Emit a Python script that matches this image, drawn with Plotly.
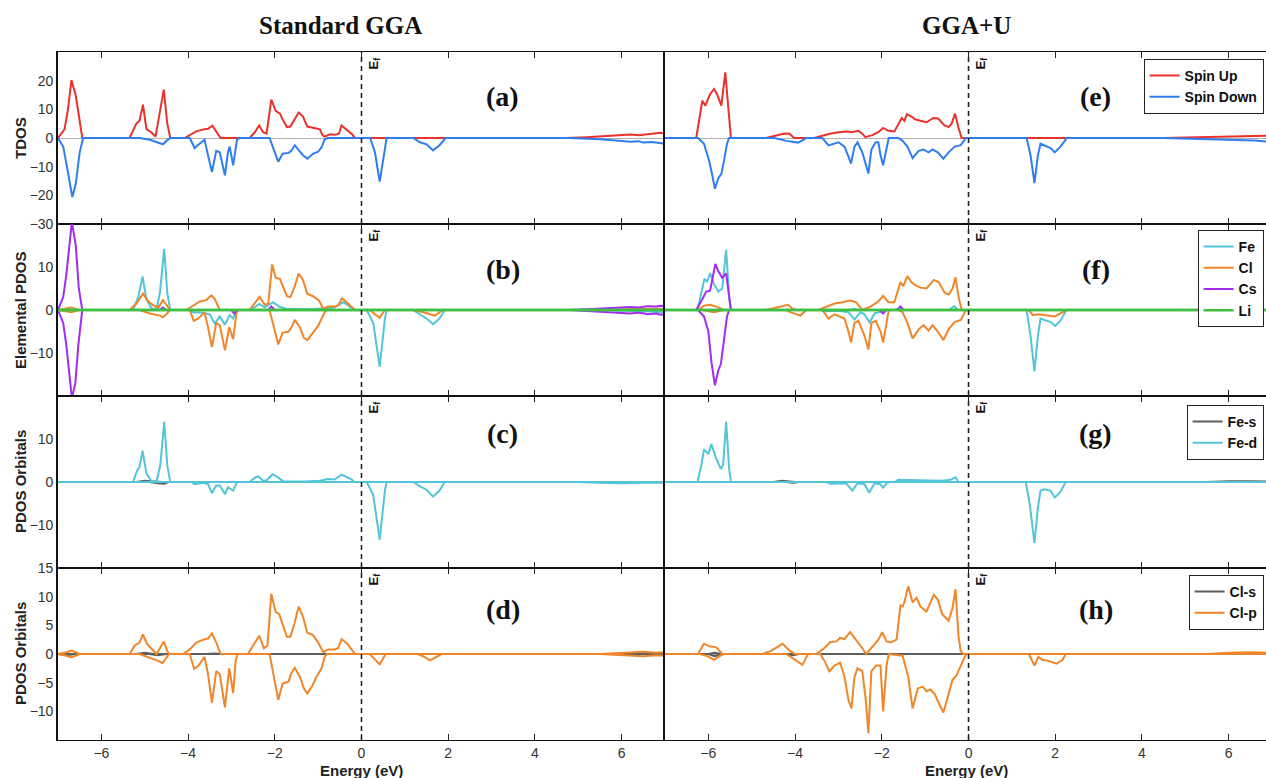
import plotly.graph_objects as go
from plotly.subplots import make_subplots

# ---------------- DATA (energy in eV, DOS in states/eV) ----------------
# (a) Standard GGA - TDOS
A_UP = [(-7, 0), (-6.85, 3), (-6.77, 10), (-6.69, 20.2), (-6.59, 14.8), (-6.44, 0), (-5.35, 0), (-5.19, 5.1), (-5.12, 6),
        (-5.04, 11.6), (-4.96, 3.1), (-4.85, 2), (-4.75, 0.5), (-4.56, 16.9), (-4.48, 5), (-4.41, 0), (-4.08, 0), (-3.96, 1),
        (-3.81, 2.3), (-3.65, 3), (-3.54, 3.2), (-3.44, 4.3), (-3.36, 2.5), (-3.25, 0), (-2.58, 0), (-2.46, 2), (-2.36, 4.4),
        (-2.27, 2), (-2.19, 1.5), (-2.08, 13.4), (-1.98, 9.5), (-1.88, 8.5), (-1.82, 6.5), (-1.72, 3.8), (-1.64, 4), (-1.54, 6.5),
        (-1.45, 8.9), (-1.35, 7.5), (-1.25, 4), (-1.12, 3.6), (-0.96, 3.0), (-0.90, 1), (-0.85, 0.5), (-0.73, 1.3), (-0.62, 1.1),
        (-0.52, 1.5), (-0.46, 4.4), (-0.35, 3), (-0.23, 1.5), (-0.15, 0), (4.7, 0), (5.2, 0.3), (5.6, 0.6), (6.0, 1.0), (6.2, 1.2),
        (6.4, 1.0), (6.6, 1.4), (6.8, 1.6), (6.9, 1.8), (7, 1.5)]
A_DN = [(-7, 0), (-6.88, -3), (-6.77, -12), (-6.67, -20.6), (-6.59, -16), (-6.5, -5), (-6.42, 0), (-5.12, 0), (-4.88, -0.6),
        (-4.7, -1.5), (-4.58, -2.2), (-4.46, -0.5), (-4.4, 0), (-3.96, 0), (-3.85, -3.5), (-3.75, -2.2), (-3.62, -0.6), (-3.54, -6),
        (-3.45, -11.9), (-3.35, -4.5), (-3.27, -5), (-3.15, -13), (-3.08, -5), (-3.04, -3), (-2.96, -9.5), (-2.87, -0.5), (-2.81, 0),
        (-2.12, 0), (-2.0, -5), (-1.92, -8.3), (-1.82, -5.5), (-1.68, -5.2), (-1.62, -4.5), (-1.54, -2.5), (-1.45, -4.2), (-1.35, -6),
        (-1.25, -7.2), (-1.12, -5.5), (-1.0, -4.8), (-0.92, -3.2), (-0.85, -0.5), (-0.78, 0), (0.2, 0), (0.31, -5), (0.42, -15.2),
        (0.54, -3), (0.58, 0), (1.19, 0), (1.35, -1.5), (1.5, -2.2), (1.65, -4.3), (1.8, -2.5), (1.94, 0), (4.8, 0), (5.2, -0.2),
        (5.5, -0.4), (5.8, -0.8), (6.0, -1.0), (6.2, -1.3), (6.4, -1.1), (6.5, -1.6), (6.7, -1.4), (6.85, -1.7), (7, -2.0)]

# (b) Standard GGA - elemental PDOS
B_FE_UP = [(-7, 0), (-5.27, 0), (-5.15, 3), (-5.05, 7.8), (-4.96, 2.5), (-4.85, 0.5), (-4.73, 0), (-4.65, 4), (-4.55, 14.2),
           (-4.48, 4), (-4.41, 0), (-2.55, 0), (-2.36, 1.4), (-2.23, 0.6), (-2.04, 1.8), (-1.88, 0.7), (-1.73, 0.3), (-1.2, 0.2),
           (-0.65, 0.5), (-0.42, 1.8), (-0.23, 0.5), (-0.15, 0), (7, 0)]
B_FE_DN = [(-7, 0), (-3.95, 0), (-3.88, -0.6), (-3.73, -0.5), (-3.5, -1), (-3.38, -3.2), (-3.27, -1.5), (-3.15, -3.4),
           (-3.04, -1.2), (-2.96, -2), (-2.87, 0), (0.12, 0), (0.27, -3), (0.42, -13.2), (0.54, -2), (0.58, 0), (1.19, 0),
           (1.42, -1.5), (1.53, -2.2), (1.65, -3.3), (1.8, -2), (1.92, 0), (5.5, 0), (6.5, -0.3), (7, -0.5)]
B_CL_UP = [(-7, 0), (-6.8, 0.3), (-6.69, 0.6), (-6.58, 0.2), (-6.5, 0), (-5.35, 0), (-5.19, 1.5), (-5.04, 3.8), (-4.92, 2),
           (-4.79, 1), (-4.69, 0.5), (-4.58, 2.3), (-4.48, 1), (-4.41, 0), (-4.04, 0), (-3.88, 1), (-3.73, 2), (-3.58, 2.3),
           (-3.46, 3.4), (-3.38, 2.5), (-3.27, 0), (-2.58, 0), (-2.46, 1.5), (-2.35, 3.1), (-2.23, 1.2), (-2.15, 1.5), (-2.06, 10.6),
           (-1.98, 7.5), (-1.88, 7.2), (-1.81, 5.5), (-1.72, 3.2), (-1.64, 3), (-1.54, 5.5), (-1.45, 8.5), (-1.35, 7), (-1.25, 3.8),
           (-1.12, 3.2), (-0.98, 2.2), (-0.88, 0.3), (-0.77, 0.8), (-0.62, 0.8), (-0.54, 1), (-0.45, 2.7), (-0.31, 1.5),
           (-0.19, 0.5), (-0.15, 0), (5.5, 0), (6.0, 0.2), (6.5, 0.3), (7, 0.3)]
B_CL_DN = [(-7, 0), (-6.8, -0.3), (-6.69, -0.5), (-6.58, -0.2), (-6.5, 0), (-5.12, 0), (-4.88, -0.8), (-4.65, -1.3),
           (-4.58, -1.7), (-4.5, -1), (-4.42, 0), (-3.96, 0), (-3.87, -2.5), (-3.77, -2), (-3.62, -0.5), (-3.54, -4), (-3.45, -8.6),
           (-3.35, -3), (-3.27, -3.5), (-3.15, -9.4), (-3.05, -4), (-2.96, -6.8), (-2.88, -0.5), (-2.84, 0), (-2.12, 0), (-2.02, -4),
           (-1.92, -8), (-1.82, -5.3), (-1.68, -5), (-1.6, -3.8), (-1.54, -2.3), (-1.42, -4), (-1.33, -6.5), (-1.25, -7),
           (-1.13, -5.5), (-1.0, -3.7), (-0.92, -2), (-0.85, -0.5), (-0.79, 0), (0.19, 0), (0.31, -1), (0.42, -1.8), (0.54, 0),
           (1.19, 0), (1.45, -0.6), (1.57, -1), (1.69, -1.3), (1.88, 0), (7, 0)]
B_CS_UP = [(-7, 0), (-6.88, 3), (-6.81, 8), (-6.73, 16), (-6.68, 20.5), (-6.59, 15), (-6.52, 5), (-6.44, 0), (-4.65, 0),
           (-4.58, 0.6), (-4.5, 0), (-2.15, 0), (-2.08, 0.8), (-2.0, 0), (4.8, 0), (5.2, 0.2), (5.6, 0.4), (6.0, 0.5), (6.2, 0.7),
           (6.4, 0.6), (6.6, 0.9), (6.8, 0.8), (6.9, 1.0), (7, 0.8)]
B_CS_DN = [(-7, 0), (-6.88, -3), (-6.81, -8), (-6.73, -15), (-6.68, -20.5), (-6.6, -17), (-6.53, -8), (-6.44, 0), (-3.0, 0),
           (-2.94, -0.8), (-2.87, 0), (4.8, 0), (5.2, -0.2), (5.6, -0.4), (6.0, -0.6), (6.2, -0.8), (6.4, -0.6), (6.6, -1.0),
           (6.8, -0.8), (6.9, -1.1), (7, -0.9)]
B_LI_UP = [(-7, 0), (7, 0)]
B_LI_DN = [(-7, 0), (7, 0)]

# (c) Standard GGA - Fe orbitals
C_FES_UP = [(-7, 0), (-5.2, 0), (-5.0, 0.3), (-4.8, 0.2), (-4.6, 0), (7, 0)]
C_FES_DN = [(-7, 0), (-4.9, 0), (-4.7, -0.3), (-4.55, -0.4), (-4.45, 0), (7, 0)]
C_FED_UP = [(-7, 0), (-5.27, 0), (-5.18, 2.5), (-5.12, 3.5), (-5.05, 7.3), (-4.96, 2), (-4.85, 0.3), (-4.73, 0), (-4.64, 4),
            (-4.55, 14), (-4.48, 4), (-4.41, 0), (-2.58, 0), (-2.46, 1), (-2.38, 1.3), (-2.27, 0.3), (-2.19, 0.4), (-2.05, 1.8),
            (-1.92, 1), (-1.81, 0.2), (-1.3, 0.1), (-0.96, 0.3), (-0.77, 0.7), (-0.62, 0.6), (-0.46, 1.7), (-0.35, 1.2),
            (-0.23, 0.6), (-0.17, 0), (7, 0)]
C_FED_DN = [(-7, 0), (-3.92, 0), (-3.85, -0.5), (-3.65, -0.2), (-3.54, -0.5), (-3.45, -2.6), (-3.35, -0.8), (-3.27, -0.8),
            (-3.15, -2.8), (-3.08, -1.2), (-2.96, -2), (-2.87, 0), (0.12, 0), (0.27, -3), (0.42, -13.4), (0.54, -2), (0.58, 0),
            (1.19, 0), (1.35, -1), (1.5, -1.8), (1.65, -3.4), (1.8, -2), (1.92, 0), (5.0, 0), (5.5, -0.2), (6.0, -0.3),
            (6.5, -0.2), (7, -0.2)]

# (d) Standard GGA - Cl orbitals
D_CLS_UP = [(-7, 0), (-5.2, 0), (-5.0, 0.2), (-4.8, 0), (-3.6, 0), (-3.4, 0.1), (-3.2, 0), (7, 0)]
D_CLS_DN = [(-7, 0), (-6.8, -0.2), (-6.6, 0), (-4.9, 0), (-4.7, -0.2), (-4.5, 0), (7, 0)]
D_CLP_UP = [(-7, 0), (-6.8, 0.3), (-6.69, 0.6), (-6.58, 0.2), (-6.5, 0), (-5.35, 0), (-5.23, 1.5), (-5.12, 2), (-5.04, 3.4),
            (-4.95, 1.8), (-4.85, 1), (-4.73, 0), (-4.65, 1), (-4.56, 2.2), (-4.48, 0.5), (-4.44, 0), (-4.12, 0), (-3.96, 0.8),
            (-3.81, 2), (-3.65, 2.5), (-3.54, 2.7), (-3.45, 3.6), (-3.35, 2), (-3.25, 0), (-2.62, 0), (-2.5, 1.5), (-2.36, 3.2),
            (-2.25, 1), (-2.17, 1.5), (-2.08, 10.5), (-1.98, 7.3), (-1.9, 7), (-1.81, 5), (-1.72, 3), (-1.64, 3), (-1.54, 5.5),
            (-1.45, 8.3), (-1.35, 6.5), (-1.25, 3.7), (-1.12, 3.3), (-1.0, 2), (-0.88, 0.3), (-0.77, 0.8), (-0.62, 0.8),
            (-0.54, 1), (-0.46, 2.6), (-0.33, 1.8), (-0.21, 0.7), (-0.15, 0), (5.5, 0), (6.0, 0.2), (6.5, 0.4), (6.8, 0.2), (7, 0.3)]
D_CLP_DN = [(-7, 0), (-6.8, -0.3), (-6.69, -0.6), (-6.58, -0.2), (-6.5, 0), (-5.12, 0), (-4.88, -0.6), (-4.69, -1.2),
            (-4.59, -1.6), (-4.5, -0.7), (-4.44, 0), (-3.96, 0), (-3.86, -2.6), (-3.76, -2), (-3.62, -0.5), (-3.54, -3.5),
            (-3.45, -8.5), (-3.35, -3), (-3.27, -3.5), (-3.15, -9.3), (-3.05, -2.5), (-2.96, -6.8), (-2.9, -1), (-2.85, 0),
            (-2.12, 0), (-2.02, -4), (-1.92, -8), (-1.82, -5.2), (-1.68, -4.8), (-1.63, -3.5), (-1.54, -2.4), (-1.42, -4),
            (-1.33, -6), (-1.25, -6.9), (-1.13, -5.5), (-1.04, -4), (-0.92, -2.5), (-0.85, -0.5), (-0.79, 0), (0.19, 0),
            (0.31, -1), (0.42, -1.8), (0.52, -0.5), (0.56, 0), (1.3, 0), (1.45, -0.5), (1.58, -1.1), (1.7, -0.6), (1.85, 0),
            (5.5, 0), (6.0, -0.2), (6.5, -0.4), (6.8, -0.2), (7, -0.3)]

# (e) GGA+U - TDOS
E_UP = [(-7, 0), (-6.28, 0), (-6.14, 13), (-6.07, 11.3), (-5.96, 15.3), (-5.87, 17.1), (-5.80, 15.3), (-5.70, 11.3),
        (-5.61, 22.9), (-5.54, 10.7), (-5.48, 0), (-4.67, 0), (-4.43, 1), (-4.25, 1.6), (-4.13, 1.5), (-4.02, 0), (-3.56, 0),
        (-3.34, 1), (-3.2, 1.5), (-3.0, 2.0), (-2.82, 2.3), (-2.68, 2.1), (-2.54, 2.5), (-2.45, 1.5), (-2.38, 0.3), (-2.22, 1),
        (-2.08, 2), (-1.97, 3.5), (-1.85, 2.5), (-1.71, 2.3), (-1.62, 5), (-1.54, 7), (-1.48, 6), (-1.42, 8.3), (-1.32, 7.5),
        (-1.23, 6.5), (-1.11, 6), (-0.97, 5.5), (-0.81, 7), (-0.70, 6.8), (-0.56, 4.5), (-0.46, 3.8), (-0.39, 5), (-0.31, 8.5),
        (-0.24, 4), (-0.16, 0), (4.5, 0), (5.0, 0.2), (5.5, 0.4), (6.0, 0.5), (6.3, 0.6), (6.6, 0.8), (6.86, 0.8)]
E_DN = [(-7, 0), (-6.24, 0), (-6.10, -2), (-5.98, -8), (-5.91, -13), (-5.85, -17.7), (-5.77, -14), (-5.70, -12.5),
        (-5.64, -8), (-5.57, -2), (-5.52, 0), (-4.48, 0), (-4.2, -1), (-3.93, -1.6), (-3.79, -0.5), (-3.74, 0), (-3.37, 0),
        (-3.23, -2.6), (-3.0, -1.5), (-2.86, -3), (-2.77, -6.5), (-2.71, -8.9), (-2.63, -3), (-2.56, -1.5), (-2.45, -5),
        (-2.31, -12.4), (-2.24, -4), (-2.14, -1.5), (-2.08, -1.5), (-2.03, -6), (-1.97, -9.5), (-1.89, -4), (-1.84, 0),
        (-1.62, 0), (-1.52, -1), (-1.41, -3), (-1.29, -7), (-1.15, -4.5), (-1.04, -4), (-0.92, -5), (-0.83, -4), (-0.71, -5),
        (-0.58, -7.2), (-0.46, -5), (-0.32, -3), (-0.18, -2.5), (-0.12, -1), (-0.06, 0), (1.34, 0), (1.43, -6), (1.52, -15.7),
        (1.60, -6), (1.66, -2), (1.80, -3), (1.89, -3.5), (1.99, -5), (2.12, -3), (2.22, -1), (2.26, 0), (4.5, 0), (5.0, -0.2),
        (5.5, -0.4), (6.0, -0.6), (6.3, -0.7), (6.6, -0.9), (6.86, -1.2)]

# (f) GGA+U - elemental PDOS
F_FE_UP = [(-7, 0), (-6.25, 0), (-6.14, 5), (-6.09, 7.3), (-6.03, 6.5), (-5.96, 8.6), (-5.87, 6), (-5.77, 4.3), (-5.68, 5),
           (-5.59, 14), (-5.52, 3), (-5.48, 0), (-2.7, 0), (-2.63, 0.3), (-2.55, 0), (-1.7, 0), (-1.62, 0.3), (-1.5, 0),
           (-0.45, 0), (-0.33, 0.9), (-0.25, 0), (6.86, 0)]
F_FE_DN = [(-7, 0), (-3.4, 0), (-3.28, -0.3), (-3.0, -0.2), (-2.77, -0.5), (-2.63, -2.2), (-2.49, -0.5), (-2.4, -1),
           (-2.28, -2.9), (-2.17, -0.8), (-1.99, -0.3), (-1.9, 0), (1.34, 0), (1.43, -6), (1.52, -14.3), (1.60, -6), (1.66, -2),
           (1.80, -2.5), (1.89, -2.8), (2.0, -3.7), (2.12, -2.5), (2.26, 0), (6.86, 0)]
F_CL_UP = [(-7, 0), (-6.24, 0), (-6.10, 1), (-5.96, 1.2), (-5.77, 0.6), (-5.64, 0), (-4.67, 0), (-4.43, 0.5), (-4.16, 1.2),
           (-4.06, 0.3), (-3.97, 0), (-3.46, 0), (-3.28, 0.8), (-3.09, 1.5), (-2.91, 1.8), (-2.73, 2.2), (-2.59, 1.8), (-2.45, 0),
           (-2.26, 0.8), (-2.08, 2), (-1.97, 3.3), (-1.85, 1.8), (-1.71, 1.8), (-1.57, 6.5), (-1.51, 5.5), (-1.41, 7.9),
           (-1.32, 6.5), (-1.23, 5.8), (-1.11, 5.2), (-0.97, 5), (-0.80, 7), (-0.69, 6.5), (-0.55, 4), (-0.46, 3.6), (-0.37, 5),
           (-0.30, 7.6), (-0.23, 3), (-0.16, 0), (6.86, 0)]
F_CL_DN = [(-7, 0), (-6.14, 0), (-5.87, -0.5), (-5.73, -0.3), (-5.64, 0), (-4.2, 0), (-4.11, -0.5), (-3.88, -1.3), (-3.74, 0),
           (-3.37, 0), (-3.23, -2), (-3.09, -1), (-2.86, -2), (-2.77, -5), (-2.71, -7.5), (-2.63, -3), (-2.54, -2.5), (-2.40, -6),
           (-2.31, -9.2), (-2.24, -3), (-2.14, -2.5), (-2.03, -5), (-1.97, -7.5), (-1.89, -3), (-1.84, 0), (-1.62, 0),
           (-1.52, -0.5), (-1.41, -3), (-1.29, -6.6), (-1.15, -4.5), (-1.04, -3.5), (-0.92, -4.8), (-0.83, -3.5), (-0.71, -5),
           (-0.58, -7), (-0.46, -4.5), (-0.32, -2.8), (-0.18, -2.3), (-0.12, -1), (-0.06, 0), (1.39, 0), (1.48, -1.2),
           (1.6, -1), (1.8, -1.3), (1.99, -1.5), (2.26, 0), (6.86, 0)]
F_CS_UP = [(-7, 0), (-6.28, 0), (-6.14, 2.5), (-6.05, 4.3), (-5.96, 4.5), (-5.84, 10.7), (-5.77, 9), (-5.68, 7.5),
           (-5.59, 8.5), (-5.52, 3), (-5.48, 0), (-1.65, 0), (-1.57, 0.8), (-1.5, 0), (6.86, 0)]
F_CS_DN = [(-7, 0), (-6.24, 0), (-6.10, -1.5), (-6.0, -5), (-5.93, -12), (-5.85, -17.5), (-5.77, -14), (-5.71, -12.5),
           (-5.64, -7), (-5.57, -1.5), (-5.52, 0), (-2.05, 0), (-1.97, -0.8), (-1.9, 0), (6.86, 0)]
F_LI_UP = [(-7, 0), (6.86, 0)]
F_LI_DN = [(-7, 0), (6.86, 0)]

# (g) GGA+U - Fe orbitals
G_FES_UP = [(-7, 0), (-4.5, 0), (-4.3, 0.3), (-4.1, 0.2), (-4.0, 0), (5.5, 0), (6.0, 0.2), (6.5, 0.2), (6.86, 0.1)]
G_FES_DN = [(-7, 0), (-4.2, 0), (-4.05, -0.2), (-3.9, 0), (6.86, 0)]
G_FED_UP = [(-7, 0), (-6.25, 0), (-6.16, 4), (-6.10, 7.6), (-6.0, 6.5), (-5.93, 8.8), (-5.82, 5.5), (-5.71, 3), (-5.66, 4),
            (-5.59, 14), (-5.52, 3), (-5.48, 0), (-1.7, 0), (-1.62, 0.5), (-1.15, 0.4), (-0.61, 0.3), (-0.42, 0.5),
            (-0.30, 1.1), (-0.23, 0), (6.86, 0)]
G_FED_DN = [(-7, 0), (-3.28, 0), (-3.19, -0.4), (-2.82, -0.3), (-2.68, -2), (-2.56, -0.3), (-2.40, -0.5), (-2.29, -2.5),
            (-2.17, -0.3), (-2.03, -0.5), (-1.97, -1.3), (-1.88, -0.2), (-1.8, 0), (1.32, 0), (1.41, -5), (1.52, -14.2),
            (1.60, -6), (1.66, -2), (1.75, -1.7), (1.89, -2), (1.99, -3.6), (2.12, -2.3), (2.24, 0), (6.86, 0)]

# (h) GGA+U - Cl orbitals
H_CLS_UP = [(-7, 0), (-6.0, 0), (-5.85, 0.2), (-5.7, 0), (6.86, 0)]
H_CLS_DN = [(-7, 0), (-6.0, 0), (-5.85, -0.4), (-5.7, 0), (-4.2, 0), (-4.05, -0.2), (-3.9, 0), (6.86, 0)]
H_CLP_UP = [(-7, 0), (-6.24, 0), (-6.10, 1.8), (-5.96, 1.3), (-5.82, 1.2), (-5.68, 0), (-4.76, 0), (-4.57, 0.5), (-4.39, 1.3),
            (-4.29, 1.8), (-4.11, 0.5), (-4.0, 0), (-3.51, 0), (-3.33, 1), (-3.19, 2.1), (-3.05, 2.2), (-2.96, 2.8), (-2.86, 2.6),
            (-2.73, 3.8), (-2.59, 2.5), (-2.45, 1), (-2.36, 0), (-2.22, 1.3), (-2.08, 2.5), (-1.99, 3.8), (-1.89, 2.2),
            (-1.80, 2), (-1.66, 2.5), (-1.57, 8.5), (-1.52, 8.3), (-1.48, 9), (-1.39, 11.8), (-1.29, 9), (-1.20, 9.8),
            (-1.11, 8.3), (-0.97, 7.4), (-0.80, 10.3), (-0.71, 9.5), (-0.61, 7), (-0.46, 5.8), (-0.37, 8), (-0.30, 11.3),
            (-0.23, 3), (-0.18, 0.5), (-0.12, 0), (5.5, 0), (6.0, 0.2), (6.5, 0.3), (6.86, 0.2)]
H_CLP_DN = [(-7, 0), (-6.2, 0), (-6.05, -0.3), (-5.87, -1), (-5.73, -0.3), (-5.64, 0), (-4.2, 0), (-4.06, -0.7), (-3.83, -1.9),
            (-3.7, 0), (-3.42, 0), (-3.30, -1.5), (-3.21, -3), (-3.09, -2), (-2.96, -1.5), (-2.86, -4), (-2.77, -8), (-2.70, -9.5),
            (-2.63, -4), (-2.56, -2.5), (-2.45, -3), (-2.37, -8), (-2.31, -13.8), (-2.24, -3), (-2.13, -2), (-2.03, -2),
            (-1.97, -10), (-1.89, -2), (-1.84, 0), (-1.52, -0.3), (-1.39, -4), (-1.29, -9.5), (-1.17, -6), (-1.06, -5.7),
            (-0.97, -6.5), (-0.88, -6.2), (-0.78, -7), (-0.69, -8.5), (-0.58, -10.2), (-0.46, -7), (-0.37, -4.5), (-0.28, -3.8),
            (-0.18, -2), (-0.09, -0.5), (-0.05, 0), (1.39, 0), (1.52, -2), (1.61, -0.5), (1.70, -1), (1.84, -1.2), (2.03, -1.7),
            (2.17, -1), (2.24, 0), (6.86, 0)]

ROW_TITLES = ["TDOS", "Elemental PDOS", "PDOS Orbitals", "PDOS Orbitals"]
COL_TITLES = ["Standard GGA", "GGA+U"]
PANEL_LABELS = [["(a)", "(e)"], ["(b)", "(f)"], ["(c)", "(g)"], ["(d)", "(h)"]]
X_TICKS = [-6, -4, -2, 0, 2, 4, 6]
Y_RANGES = [[-30, 30], [-20, 20], [-20, 20], [-15, 15]]
Y_TICKS = [[-30, -20, -10, 0, 10, 20], [-10, 0, 10], [-10, 0, 10], [-10, -5, 0, 5, 10, 15]]

# ---------------- STYLE ----------------
RED = "#E8322B"
BLUE = "#2F7DF0"
CYAN = "#52C5D8"
ORANGE = "#F0862A"
PURPLE = "#A22CF0"
GREEN = "#3FC043"
GRAY = "#5E5E5E"
SANS = "Liberation Sans, Arial, sans-serif"
SERIF = "Liberation Serif, Times New Roman, serif"

panels = {
    (1, 1): [("Spin Up", RED, A_UP, None), ("Spin Down", BLUE, None, A_DN)],
    (1, 2): [("Spin Up", RED, E_UP, None), ("Spin Down", BLUE, None, E_DN)],
    (2, 1): [("Fe", CYAN, B_FE_UP, B_FE_DN), ("Cl", ORANGE, B_CL_UP, B_CL_DN), ("Cs", PURPLE, B_CS_UP, B_CS_DN),
             ("Li", GREEN, B_LI_UP, B_LI_DN)],
    (2, 2): [("Fe", CYAN, F_FE_UP, F_FE_DN), ("Cl", ORANGE, F_CL_UP, F_CL_DN), ("Cs", PURPLE, F_CS_UP, F_CS_DN),
             ("Li", GREEN, F_LI_UP, F_LI_DN)],
    (3, 1): [("Fe-s", GRAY, C_FES_UP, C_FES_DN), ("Fe-d", CYAN, C_FED_UP, C_FED_DN)],
    (3, 2): [("Fe-s", GRAY, G_FES_UP, G_FES_DN), ("Fe-d", CYAN, G_FED_UP, G_FED_DN)],
    (4, 1): [("Cl-s", GRAY, D_CLS_UP, D_CLS_DN), ("Cl-p", ORANGE, D_CLP_UP, D_CLP_DN)],
    (4, 2): [("Cl-s", GRAY, H_CLS_UP, H_CLS_DN), ("Cl-p", ORANGE, H_CLP_UP, H_CLP_DN)],
}
legend_of_row = {1: "legend", 2: "legend2", 3: "legend3", 4: "legend4"}
legend_top_px = {1: 59, 2: 230, 3: 405, 4: 575}

W, H = 1266, 778
ML, MR, MT, MB = 58, 0, 52, 38
PW, PH = W - ML - MR, H - MT - MB


def unzip(pairs):
    return [p[0] for p in pairs], [p[1] for p in pairs]


fig = make_subplots(rows=4, cols=2, horizontal_spacing=0, vertical_spacing=0, column_widths=[607, 601])

for (r, c), series in panels.items():
    for name, color, up, dn in series:
        lw = 2.6 if name == "Li" else 2.0
        first = True
        for data in (up, dn):
            if data is None:
                continue
            xs, ys = unzip(data)
            show = (c == 2) and first
            fig.add_trace(go.Scatter(x=xs, y=ys, mode="lines", name=name,
                                     line=dict(color=color, width=lw),
                                     showlegend=show, legend=legend_of_row[r],
                                     hoverinfo="skip"), row=r, col=c)
            first = False

for r in range(1, 5):
    for c in (1, 2):
        idx = (r - 1) * 2 + c
        xref = "x" if idx == 1 else f"x{idx}"
        yref = "y" if idx == 1 else f"y{idx}"
        fig.update_xaxes(row=r, col=c, range=[-7, 7] if c == 1 else [-7, 6.86],
                         tickvals=X_TICKS, showticklabels=(r == 4),
                         ticks="inside", ticklen=6, tickwidth=1.3, tickcolor="#222",
                         showline=True, linecolor="#111", linewidth=1.2, mirror="ticks",
                         showgrid=False, zeroline=False,
                         tickfont=dict(family=SANS, size=14, color="#333"))
        fig.update_yaxes(row=r, col=c, range=Y_RANGES[r - 1], tickvals=Y_TICKS[r - 1],
                         showticklabels=(c == 1), ticks="",
                         showline=True, linecolor="#111", linewidth=1.6, mirror=False,
                         showgrid=False, zeroline=True, zerolinecolor="#B0B0B0", zerolinewidth=1,
                         tickfont=dict(family=SANS, size=14, color="#333"))
        # Fermi level dashed line
        fig.add_shape(type="line", xref=xref, yref=f"{yref} domain", x0=0, x1=0, y0=0, y1=1,
                      line=dict(color="#222", width=1.6, dash="5px,4px"))
        fig.add_annotation(xref=xref, yref=f"{yref} domain", x=0, y=1, xanchor="left", yanchor="top",
                           xshift=2, yshift=-3, text="E<sub>f</sub>", showarrow=False, textangle=-90,
                           font=dict(family=SANS, size=13, color="#111", weight="bold"))
        # panel label
        ly = {1: 0.74, 2: 0.733, 3: 0.783, 4: 0.756}[r]
        fig.add_annotation(xref=xref, yref=f"{yref} domain", x=3.26 if c == 1 else 2.93, y=ly,
                           xanchor="center", yanchor="middle",
                           text=PANEL_LABELS[r - 1][c - 1], showarrow=False,
                           font=dict(family=SERIF, size=28, color="#111", weight="bold"))

# Row titles
for r in range(1, 5):
    cy = (r - 0.5) * PH / 4 + MT
    fig.add_annotation(xref="paper", yref="paper", x=(20 - ML) / PW, y=(H - MB - cy) / PH,
                       xanchor="center", yanchor="middle",
                       text=ROW_TITLES[r - 1], textangle=-90, showarrow=False,
                       font=dict(family=SANS, size=15, color="#222", weight="bold"))

# Column titles and x axis titles
for c, cx in ((1, 340), (2, 966)):
    fig.add_annotation(xref="paper", yref="paper", x=(cx - ML) / PW, y=(H - MB - 25) / PH,
                       xanchor="center", yanchor="middle",
                       text=COL_TITLES[c - 1], showarrow=False,
                       font=dict(family=SERIF, size=25, color="#111", weight="bold"))
for cx in (361.5, 966):
    fig.add_annotation(xref="paper", yref="paper", x=(cx - ML) / PW, y=(H - MB - 770) / PH,
                       xanchor="center", yanchor="middle",
                       text="Energy (eV)", showarrow=False,
                       font=dict(family=SANS, size=15, color="#222", weight="bold"))

legend_style = dict(xanchor="right", x=0.998, yanchor="top", bgcolor="white", bordercolor="#222", borderwidth=1,
                    font=dict(family=SANS, size=14, color="#111", weight="bold"), itemwidth=30,
                    tracegroupgap=0)
layout_legends = {}
for r in range(1, 5):
    key = legend_of_row[r]
    layout_legends[key] = dict(legend_style, y=(H - MB - legend_top_px[r]) / PH)

fig.update_layout(width=W, height=H, margin=dict(l=ML, r=MR, t=MT, b=MB),
                  plot_bgcolor="white", paper_bgcolor="white", showlegend=True, **layout_legends)

fig.write_html("out.html", config={"displayModeBar": False},
               post_script="document.body.style.margin='0px';document.body.style.overflow='hidden';")
